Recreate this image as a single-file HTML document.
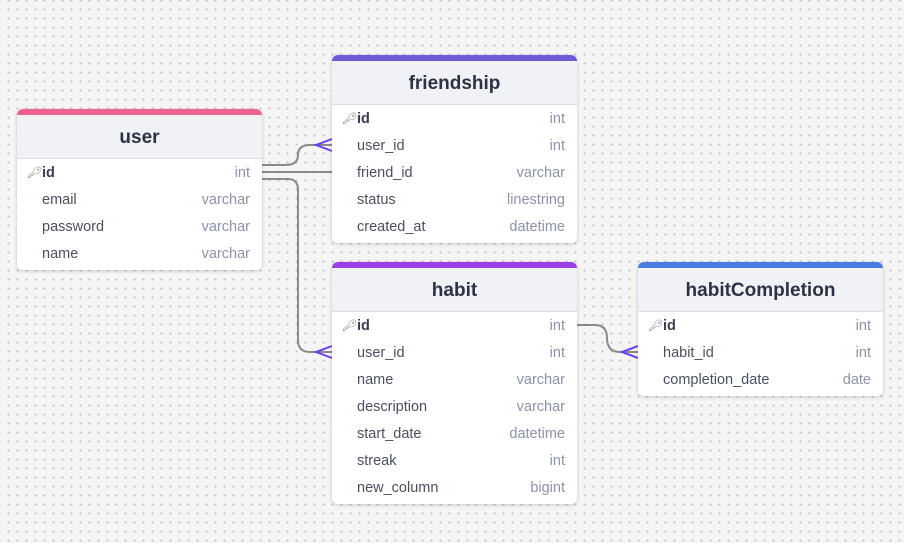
<!DOCTYPE html>
<html><head><meta charset="utf-8"><style>
body{margin:0;width:904px;height:543px;overflow:hidden;background:#f5f5f5;background-image:radial-gradient(circle,#bdbdbd 0.8px,transparent 1.1px);background-size:9px 9px;background-position:4px 5px;font-family:"Liberation Sans",sans-serif;position:relative}
.t{position:absolute;width:245px;background:#fff;border-radius:6px;box-shadow:0 1px 4px rgba(0,0,0,.18);overflow:hidden}
.bar{height:6px}
.h{height:43px;background:#f0f2f6;border-bottom:1px solid #d9dde8;text-align:center;line-height:46px;font-weight:bold;font-size:19px;color:#2d3345}
.r{height:27px;line-height:27px;font-size:14.5px;color:#4a5060;padding:0 12px 0 25px;position:relative}
.r span{position:absolute;right:12px;color:#8c93a8}
.r b{color:#3a4050}
.k{position:absolute;left:10px;top:0;font-size:11px;color:#777}
.rows{padding-top:1px;padding-bottom:2px}
svg{position:absolute;left:0;top:0}
</style></head><body>
<svg width="904" height="543">
<g fill="none" stroke="#8a8a8a" stroke-width="2">
<path d="M262 165 H285 Q298 165 298 155 Q298 145 310 145 H332"/>
<path d="M262 172 H332"/>
<path d="M262 179 H288 Q298 179 298 190 V340 Q298 352 310 352 H332"/>
<path d="M577 325 H595 Q607 325 607 338 Q607 352 620 352 H638"/>
</g>
<g fill="none" stroke="#6a3ff0" stroke-width="2">
<path d="M332 139 L316 145 L332 151"/>
<path d="M332 346 L316 352 L332 358"/>
<path d="M638 346 L622 352 L638 358"/>
</g>
</svg>

<div class="t" style="left:17px;top:109px"><div class="bar" style="background:#f0628e"></div><div class="h">user</div><div class="rows">
<div class="r"><i class="k">&#x1F511;&#xFE0E;</i><b>id</b><span>int</span></div>
<div class="r">email<span>varchar</span></div>
<div class="r">password<span>varchar</span></div>
<div class="r">name<span>varchar</span></div></div></div>

<div class="t" style="left:332px;top:55px"><div class="bar" style="background:#6b5bd6"></div><div class="h">friendship</div><div class="rows">
<div class="r"><i class="k">&#x1F511;&#xFE0E;</i><b>id</b><span>int</span></div>
<div class="r">user_id<span>int</span></div>
<div class="r">friend_id<span>varchar</span></div>
<div class="r">status<span>linestring</span></div>
<div class="r">created_at<span>datetime</span></div></div></div>

<div class="t" style="left:332px;top:262px"><div class="bar" style="background:#9a3ee6"></div><div class="h">habit</div><div class="rows">
<div class="r"><i class="k">&#x1F511;&#xFE0E;</i><b>id</b><span>int</span></div>
<div class="r">user_id<span>int</span></div>
<div class="r">name<span>varchar</span></div>
<div class="r">description<span>varchar</span></div>
<div class="r">start_date<span>datetime</span></div>
<div class="r">streak<span>int</span></div>
<div class="r">new_column<span>bigint</span></div></div></div>

<div class="t" style="left:638px;top:262px"><div class="bar" style="background:#4a7be0"></div><div class="h">habitCompletion</div><div class="rows">
<div class="r"><i class="k">&#x1F511;&#xFE0E;</i><b>id</b><span>int</span></div>
<div class="r">habit_id<span>int</span></div>
<div class="r">completion_date<span>date</span></div></div></div>
</body></html>
